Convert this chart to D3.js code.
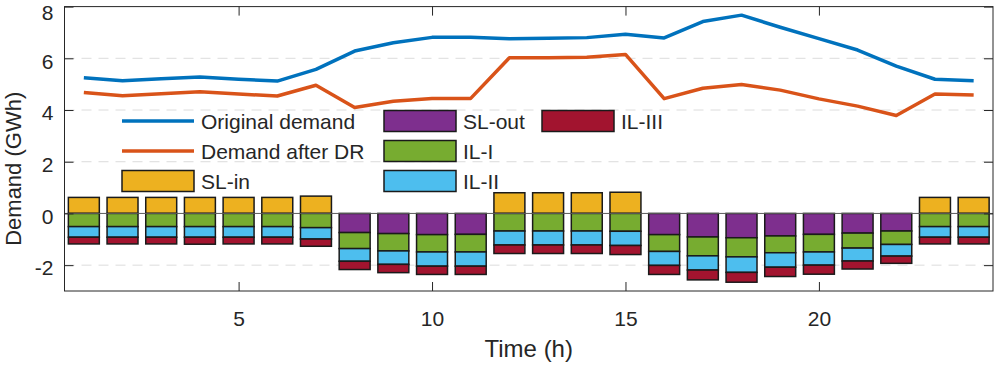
<!DOCTYPE html>
<html>
<head>
<meta charset="utf-8">
<script src="https://cdn.jsdelivr.net/npm/d3@7"></script>
<style>
  body { margin: 0; background: #fff; }
  text { font-family: "Liberation Sans", Arial, sans-serif; fill: #262626; }
</style>
</head>
<body>
<div id="container"></div>
<script>
//hours and series values (GWh)
var hours = d3.range(1, 25);
var original = [5.25, 5.13, 5.21, 5.28, 5.19, 5.12, 5.57, 6.28, 6.60, 6.81, 6.81, 6.76,
    6.78, 6.80, 6.93, 6.79, 7.42, 7.67, 7.20, 6.76, 6.32, 5.70, 5.19, 5.13];
var afterDR = [4.68, 4.55, 4.63, 4.71, 4.62, 4.54, 4.96, 4.10, 4.34, 4.45, 4.45, 6.02,
    6.02, 6.04, 6.15, 4.44, 4.84, 4.99, 4.77, 4.43, 4.15, 3.79, 4.62, 4.58];
var slIn = [0.62, 0.62, 0.62, 0.62, 0.62, 0.62, 0.67, 0, 0, 0, 0, 0.80,
    0.80, 0.80, 0.82, 0, 0, 0, 0, 0, 0, 0, 0.62, 0.62];
var slOut = [0, 0, 0, 0, 0, 0, 0, -0.74, -0.78, -0.82, -0.81, 0,
    0, 0, 0, -0.82, -0.91, -0.94, -0.87, -0.81, -0.76, -0.68, 0, 0];
var il1 = [-0.51, -0.51, -0.51, -0.51, -0.51, -0.51, -0.55, -0.62, -0.67, -0.67, -0.68, -0.68,
    -0.68, -0.68, -0.69, -0.65, -0.73, -0.74, -0.65, -0.68, -0.58, -0.52, -0.51, -0.51];
var il2 = [-0.41, -0.41, -0.41, -0.41, -0.41, -0.41, -0.44, -0.49, -0.52, -0.55, -0.55, -0.54,
    -0.54, -0.54, -0.55, -0.54, -0.55, -0.60, -0.56, -0.51, -0.50, -0.45, -0.41, -0.41];
var il3 = [-0.26, -0.26, -0.26, -0.27, -0.26, -0.26, -0.28, -0.32, -0.32, -0.32, -0.32, -0.33,
    -0.33, -0.33, -0.35, -0.35, -0.38, -0.38, -0.36, -0.35, -0.31, -0.28, -0.26, -0.26];

var xTicks = [5, 10, 15, 20];
var yTicks = [-2, 0, 2, 4, 6, 8];

var barKeys = ["slIn", "slOut", "il1", "il2", "il3"];
var barNames = {slIn: "SL-in", slOut: "SL-out", il1: "IL-I", il2: "IL-II", il3: "IL-III"};
var barColors = {slIn: "#EDB120", slOut: "#7E2F8E", il1: "#77AC30", il2: "#4DBEEE", il3: "#A2142F"};

//build table for the stack
var table = hours.map(function (h, i) {
    return {h: h, slIn: slIn[i], slOut: slOut[i], il1: il1[i], il2: il2[i], il3: il3[i]};
});

var width = 996, height = 368;
var plot = {left: 64.5, right: 993, top: 6.6, bottom: 291};

var x = d3.scaleLinear().domain([0.5, 24.5]).range([plot.left, plot.right]);
var y = d3.scaleLinear().domain([-3, 8]).range([plot.bottom, plot.top]);
var barW = (x(2) - x(1)) * 0.8;

var svg = d3.select("#container").append("svg")
    .attr("width", width)
    .attr("height", height);

//dashed grid
svg.append("g")
    .selectAll("line")
    .data(yTicks.filter(function (d) { return d !== 0 && d !== 8; }))
    .enter().append("line")
    .attr("x1", plot.left).attr("x2", plot.right)
    .attr("y1", function (d) { return y(d); })
    .attr("y2", function (d) { return y(d); })
    .attr("stroke", "#dcdcdc")
    .attr("stroke-width", 1)
    .attr("stroke-dasharray", "10,7");

//stacked bars
var stack = d3.stack().keys(barKeys).offset(d3.stackOffsetDiverging);
var series = stack(table);

svg.append("g")
    .selectAll("g")
    .data(series)
    .enter().append("g")
    .attr("fill", function (s) { return barColors[s.key]; })
    .selectAll("rect")
    .data(function (s) { return s.filter(function (d) { return d[1] !== d[0]; }); })
    .enter().append("rect")
    .attr("x", function (d) { return x(d.data.h) - barW / 2; })
    .attr("y", function (d) { return y(d[1]); })
    .attr("width", barW)
    .attr("height", function (d) { return y(d[0]) - y(d[1]); })
    .attr("stroke", "#1a1a1a")
    .attr("stroke-width", 1.5);

//baseline at zero
svg.append("line")
    .attr("x1", plot.left).attr("x2", plot.right)
    .attr("y1", y(0)).attr("y2", y(0))
    .attr("stroke", "#5a5a5a")
    .attr("stroke-width", 1);

//demand lines
var line = d3.line()
    .x(function (d, i) { return x(hours[i]); })
    .y(function (d) { return y(d); });

svg.append("path")
    .datum(original)
    .attr("d", line)
    .attr("fill", "none")
    .attr("stroke", "#0072BD")
    .attr("stroke-width", 3.5)
    .attr("stroke-linejoin", "round");

svg.append("path")
    .datum(afterDR)
    .attr("d", line)
    .attr("fill", "none")
    .attr("stroke", "#D95319")
    .attr("stroke-width", 3.5)
    .attr("stroke-linejoin", "round");

//axes box with inward ticks on all sides
var tickLen = 9;
var axisColor = "#262626";
var plain = function (d) { return String(d); }; //hyphen minus like the original
svg.append("rect")
    .attr("x", plot.left).attr("y", plot.top)
    .attr("width", plot.right - plot.left)
    .attr("height", plot.bottom - plot.top)
    .attr("fill", "none")
    .attr("stroke", axisColor)
    .attr("stroke-width", 1);

var xAxis = svg.append("g")
    .attr("transform", "translate(0," + plot.bottom + ")")
    .call(d3.axisBottom(x).tickValues(xTicks).tickFormat(plain).tickSizeInner(-tickLen).tickSizeOuter(0).tickPadding(20));
var xAxisTop = svg.append("g")
    .attr("transform", "translate(0," + plot.top + ")")
    .call(d3.axisTop(x).tickValues(xTicks).tickSizeInner(-tickLen).tickSizeOuter(0).tickFormat(""));
var yAxis = svg.append("g")
    .attr("transform", "translate(" + plot.left + ",0)")
    .call(d3.axisLeft(y).tickValues(yTicks).tickFormat(plain).tickSizeInner(-tickLen).tickSizeOuter(0).tickPadding(11));
var yAxisRight = svg.append("g")
    .attr("transform", "translate(" + plot.right + ",0)")
    .call(d3.axisRight(y).tickValues(yTicks).tickSizeInner(-tickLen).tickSizeOuter(0).tickFormat(""));

[xAxis, xAxisTop, yAxis, yAxisRight].forEach(function (a) {
    a.select(".domain").remove();
    a.selectAll(".tick line").attr("stroke", axisColor);
    a.selectAll(".tick text")
        .attr("font-size", 21)
        .style("font-family", "'Liberation Sans', Arial, sans-serif")
        .attr("fill", axisColor);
});
//y labels sit a little below their ticks, the top one kept inside the figure
yAxis.selectAll(".tick text")
    .attr("transform", function (d) { return "translate(0," + (d === 8 ? 6 : 3) + ")"; });

//axis labels
svg.append("text")
    .attr("x", (plot.left + plot.right) / 2)
    .attr("y", 357)
    .attr("text-anchor", "middle")
    .attr("font-size", 24)
    .text("Time (h)");

svg.append("text")
    .attr("transform", "translate(21," + ((plot.top + plot.bottom) / 2 + 20) + ") rotate(-90)")
    .attr("text-anchor", "middle")
    .attr("font-size", 22)
    .text("Demand (GWh)");

//legend, column-major, no box
var legendItems = [
    {name: "Original demand", type: "line", color: "#0072BD"},
    {name: "Demand after DR", type: "line", color: "#D95319"},
    {name: barNames.slIn, type: "bar", color: barColors.slIn},
    {name: barNames.slOut, type: "bar", color: barColors.slOut},
    {name: barNames.il1, type: "bar", color: barColors.il1},
    {name: barNames.il2, type: "bar", color: barColors.il2},
    {name: barNames.il3, type: "bar", color: barColors.il3}
];
var legCols = [122, 384, 542];
var legRows = [121, 151, 181];
var keyW = 72, keyH = 21;

var leg = svg.append("g")
    .selectAll("g")
    .data(legendItems)
    .enter().append("g")
    .attr("transform", function (d, i) {
        return "translate(" + legCols[Math.floor(i / 3)] + "," + legRows[i % 3] + ")";
    });

leg.filter(function (d) { return d.type === "line"; })
    .append("line")
    .attr("x1", 0).attr("x2", keyW)
    .attr("y1", 0).attr("y2", 0)
    .attr("stroke", function (d) { return d.color; })
    .attr("stroke-width", 3.5);

leg.filter(function (d) { return d.type === "bar"; })
    .append("rect")
    .attr("x", 0).attr("y", -keyH / 2)
    .attr("width", keyW).attr("height", keyH)
    .attr("fill", function (d) { return d.color; })
    .attr("stroke", "#1a1a1a")
    .attr("stroke-width", 1.5);

leg.append("text")
    .attr("x", keyW + 7)
    .attr("y", 0)
    .attr("dy", "0.36em")
    .attr("font-size", 21)
    .text(function (d) { return d.name; });
</script>
</body>
</html>
